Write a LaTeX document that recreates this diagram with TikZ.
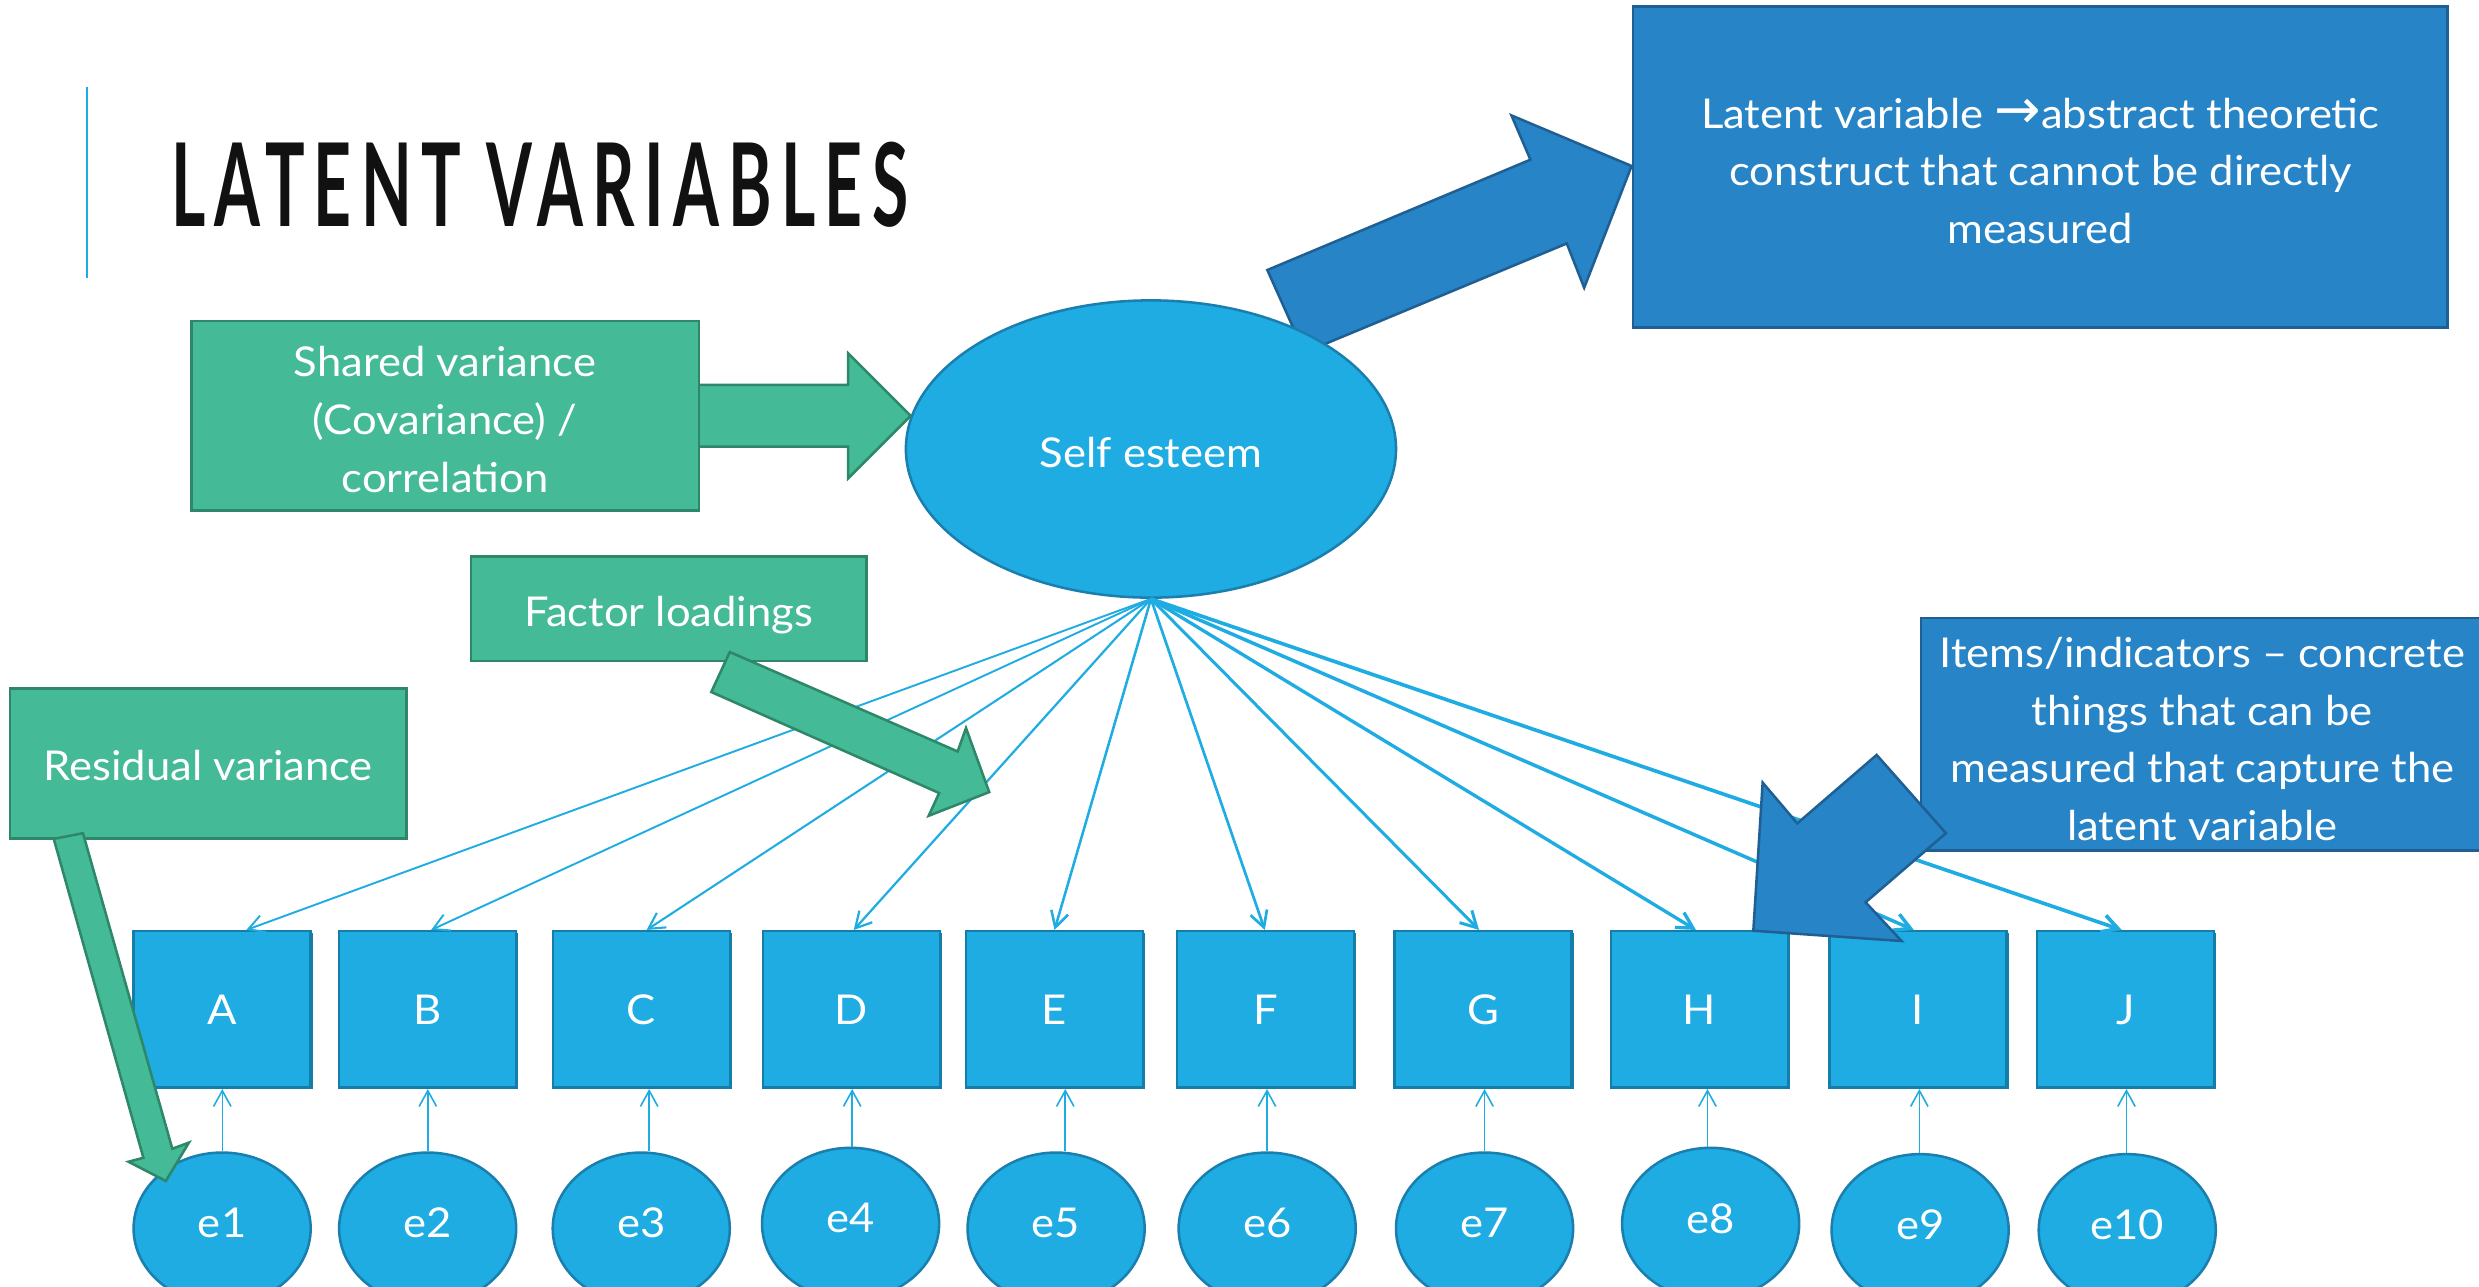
\documentclass[tikz,border=0pt]{standalone}
\usepackage{graphicx}
\usepackage{fontspec}
\setmainfont{Lato}[FakeStretch=1.06]
\newfontfamily\titlefont{Lato}[LetterSpace=14]
\newfontfamily\symfont{DejaVu Sans}
\usetikzlibrary{arrows.meta,shapes.geometric}

\definecolor{sky}{HTML}{1EACE2}
\definecolor{skyedge}{HTML}{157DAA}
\definecolor{ovaledge}{HTML}{1A7FAF}
\definecolor{deep}{HTML}{2784C6}
\definecolor{deepedge}{HTML}{1F5F93}
\definecolor{mint}{HTML}{44BA96}
\definecolor{mintedge}{HTML}{2F8769}
\definecolor{ink}{HTML}{111111}

% zero-width strut that raises the first line and so lowers the text block
\newcommand\firststrut[1]{\rule{0pt}{#1}}

\begin{document}
\begin{tikzpicture}[x=1pt,y=-1pt,
  lbl/.style={font=\fontsize{26}{36.5}\selectfont, text=white, align=center},
  item/.style={lbl, rectangle, draw=skyedge, fill=sky, line width=1.6pt,
    minimum width=112pt, minimum height=99pt, inner sep=0pt,
    preaction={fill=skyedge, transform canvas={xshift=1.4pt, yshift=-1pt}}},
  err/.style={lbl, ellipse, draw=ovaledge, fill=sky, line width=1.6pt,
    minimum width=112pt, minimum height=96pt, inner sep=0pt, text depth=7pt},
  note/.style={lbl, rectangle, fill=mint, draw=mintedge, line width=1.6pt, inner sep=0pt},
  callout/.style={lbl, rectangle, fill=deep, draw=deepedge, line width=1.6pt, inner sep=0pt},
  greenblock/.style={fill=mint, draw=mintedge, line width=1.6pt, line join=miter},
  blueblock/.style={fill=deep, draw=deepedge, line width=1.6pt, line join=miter},
  load/.style={draw=sky, -{Straight Barb[length=10pt,width=11pt]}},
  resid/.style={draw=sky, line width=1pt, -{Straight Barb[length=10pt,width=11pt]}},
]
\clip (0,0) rectangle (1568,814);
\fill[white] (0,0) rectangle (1568,814);

% heading with its accent bar
\draw[sky, line width=1.6pt] (55,54.8) -- (55,175.6);
\node[anchor=north west, inner sep=0pt, text=ink] (title) at (108,89.6)
  {\resizebox{466pt}{53.4pt}{\titlefont\bfseries LATENT VARIABLES}};

% block arrow from the latent variable to its definition
\draw[blueblock] (801.6,170.8) -- (968,101) -- (956,73) -- (1032,105)
  -- (1002,182) -- (991,154) -- (825,223) -- cycle;

% latent variable
\node[lbl, ellipse, fill=sky, draw=ovaledge, line width=1.6pt,
  minimum width=310pt, minimum height=188pt, inner sep=0pt] (se) at (728,284)
  {\firststrut{24pt}Self esteem};

% shared variance note and its arrow
\draw[greenblock] (440,243.5) -- (536.5,243.5) -- (536.5,223.5) -- (576,263)
  -- (536.5,302.5) -- (536.5,282.5) -- (440,282.5) -- cycle;
\node[note, minimum width=321pt, minimum height=120pt] (shared) at (281.5,263)
  {\firststrut{24pt}Shared variance\\(Covariance) /\\correlation};

% indicators, residuals and loadings
\foreach \n/\bx/\ex/\ey/\lx/\tx/\lw [count=\i] in {
  A/140.5/140.5/777/140.6/155.8/1.2,
  B/270.5/270.5/777/270.6/272.7/1.2,
  C/405.7/405.6/777/410.6/409/1.3,
  D/538.5/538/774/539/540/1.4,
  E/667/668/777/673.8/667/1.6,
  F/800.5/801.5/777/801.4/800/1.7,
  G/938/939/777/939/935.5/1.9,
  H/1075/1082/774/1080/1072.7/2.1,
  I/1213/1214.5/778/1214/1210.5/2.2,
  J/1344.5/1345.5/778/1345/1342/2.3}{
  \node[item] (\n) at (\bx,638.5) {\n};
  \node[err] (e\i) at (\ex,\ey) {e\i};
  \draw[resid] (\lx,0 |- e\i.north) -- (\lx,0 |- \n.south);
  \draw[load, line width=\lw pt] (se.south) -- (\tx,0 |- \n.north);
}

% factor loadings note
\node[note, minimum width=250pt, minimum height=66pt] (factor) at (423,385)
  {\firststrut{27pt}Factor loadings};
\draw[greenblock] (461.6,412.4) -- (605.7,475.3) -- (611,460.5) -- (625.7,501)
  -- (587.4,516) -- (594,501.6) -- (449.9,437.7) -- cycle;

% residual variance note
\node[note, minimum width=250.7pt, minimum height=95pt] (residual) at (131.7,483)
  {\firststrut{22pt}Residual variance};
\draw[greenblock] (34,530.6) -- (52.5,527) -- (109,726.6) -- (119.5,722.7)
  -- (104.9,747) -- (81.3,734.8) -- (90.7,732.3) -- cycle;

% definition of a latent variable
\node[callout, minimum width=515pt, minimum height=203pt] (latent) at (1290.5,105.6)
  {\firststrut{24pt}Latent variable {\symfont\scalebox{1.35}{→}}abstract theoretic\\construct that cannot be directly\\measured};

% definition of the indicators
\node[callout, minimum width=356pt, minimum height=147pt] (items) at (1393,464.5)
  {\firststrut{25pt}Items/indicators -- concrete\\things that can be\\measured that capture the\\latent variable};
\draw[blueblock] (1114.9,495) -- (1136.8,520.8) -- (1187,477.5) -- (1230.8,527)
  -- (1180,570.7) -- (1202.8,595.2) -- (1109,588.7) -- cycle;
\end{tikzpicture}
\end{document}
